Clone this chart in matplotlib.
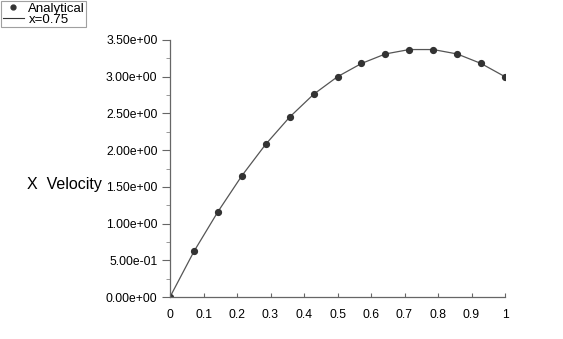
import matplotlib.pyplot as plt
from matplotlib.ticker import MultipleLocator, FormatStrFormatter
from matplotlib.lines import Line2D

# positions along the line and velocity
position = [0, 1/14, 2/14, 3/14, 4/14, 5/14, 6/14, 7/14,
            8/14, 9/14, 10/14, 11/14, 12/14, 13/14, 1]
velocity = [0.0, 0.62, 1.16, 1.65, 2.08, 2.45, 2.76, 3.0,
            3.18, 3.31, 3.37, 3.37, 3.31, 3.18, 3.0]

x_ticks = [0, 0.1, 0.2, 0.3, 0.4, 0.5, 0.6, 0.7, 0.8, 0.9, 1]
x_tick_labels = ['0', '0.1', '0.2', '0.3', '0.4', '0.5', '0.6', '0.7', '0.8', '0.9', '1']

plt.rcParams['font.family'] = ['Liberation Sans', 'DejaVu Sans']

fig = plt.figure(figsize=(5.63, 3.39), dpi=100)
ax = fig.add_axes([170 / 563, 1 - 297 / 339, 335 / 563, 257 / 339])

ax.plot(position, velocity, color='#555555', linewidth=0.9)
ax.plot(position, velocity, 'o', color='#333333', markersize=4.2)

ax.set_xlim(0, 1)
ax.set_ylim(0, 3.5)
ax.set_xticks(x_ticks)
ax.set_xticklabels(x_tick_labels)
ax.yaxis.set_major_locator(MultipleLocator(0.5))
ax.yaxis.set_minor_locator(MultipleLocator(0.25))
ax.yaxis.set_major_formatter(FormatStrFormatter('%.2e'))

for side in ['top', 'right']:
    ax.spines[side].set_visible(False)
for side in ['left', 'bottom']:
    ax.spines[side].set_color('#666666')
    ax.spines[side].set_linewidth(0.9)

ax.tick_params(axis='y', direction='out', length=6, color='#666666', labelsize=8.7, pad=3)
ax.tick_params(axis='y', which='minor', direction='out', length=3, color='#888888')
ax.tick_params(axis='x', direction='in', length=3, color='#666666', labelsize=8.7, pad=9)

fig.text(27 / 563, 1 - 185 / 339, 'X  Velocity', fontsize=11.5, va='center', ha='left')

handles = [
    Line2D([], [], marker='o', linestyle='none', color='#333333', markersize=3.5),
    Line2D([], [], color='#333333', linewidth=0.8),
]
leg = fig.legend(handles, ['Analytical', 'x=0.75'], loc='upper left',
                 bbox_to_anchor=(0.0, 1.0), frameon=True, fancybox=False,
                 fontsize=9.5, handlelength=1.6, handletextpad=0.35,
                 borderpad=0.1, labelspacing=-0.1, borderaxespad=0.1)
leg.get_frame().set_edgecolor('#888888')
leg.get_frame().set_linewidth(0.8)

fig.savefig('out.png', dpi=100)
